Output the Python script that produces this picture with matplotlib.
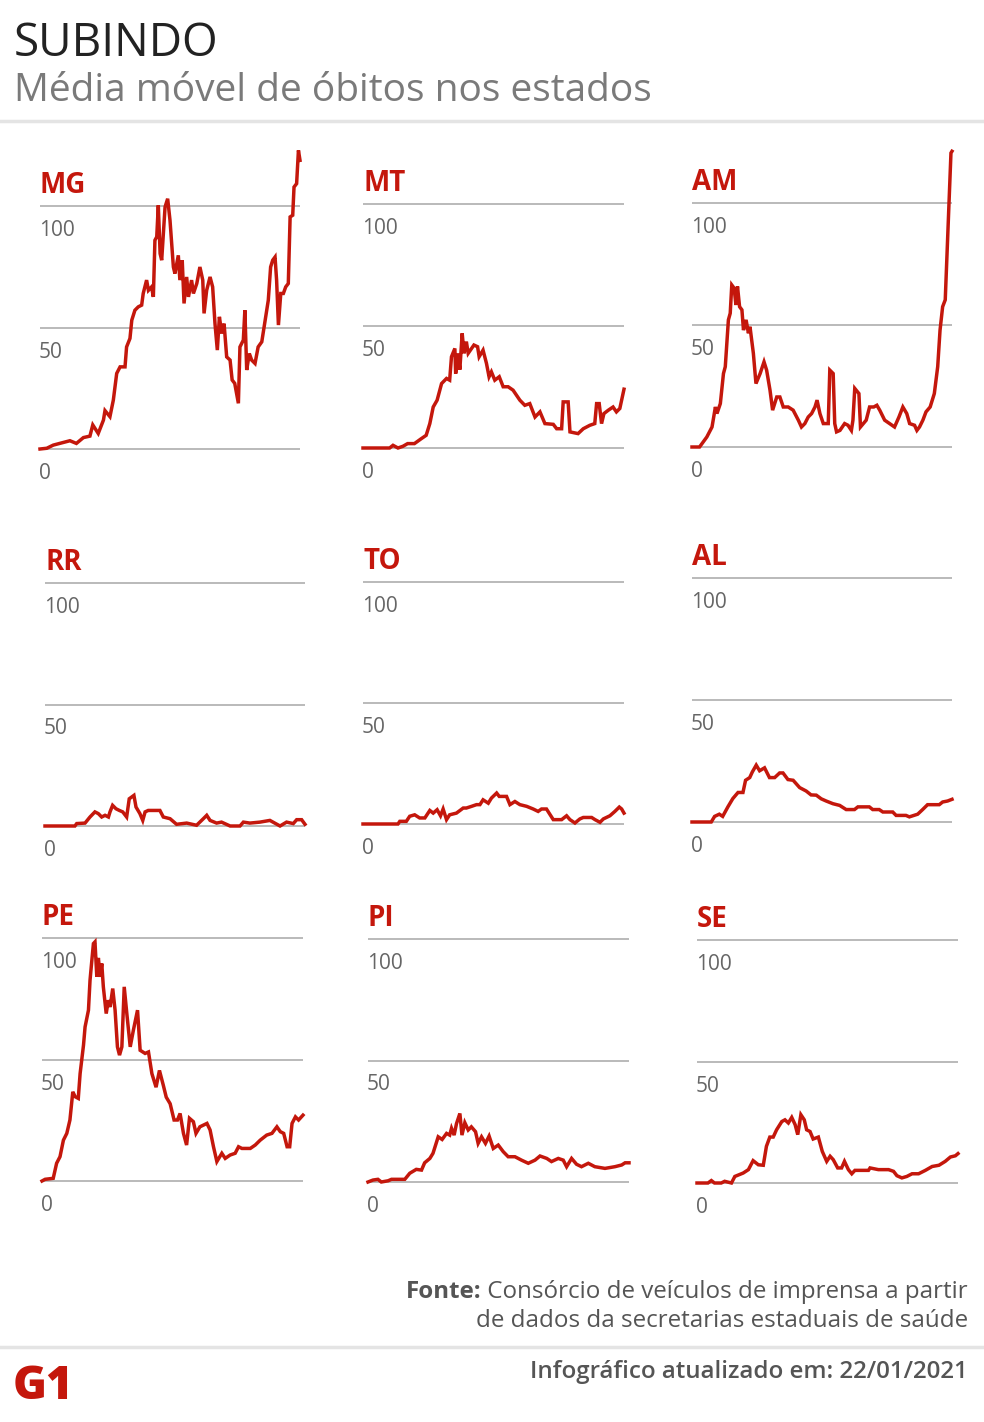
import matplotlib
matplotlib.use("Agg")
import matplotlib.pyplot as plt
from matplotlib.lines import Line2D

plt.rcParams["font.family"] = ["Open Sans", "DejaVu Sans"]

# time axis as % of the period (mar/2020 -> jan/2021), values = 7-day mean of deaths
MG_X = [0, 2.6, 5.1, 9, 11.5, 14, 16.7, 19.2, 20.3, 22.4, 24.4, 25, 26.9, 28.2, 29.5, 30.8, 32.7, 33.3,
        34.6, 35.3, 36.5, 37.8, 39.1, 39.7, 41, 41.7, 42.9, 43.6, 44.2, 44.9, 45.5, 46.2, 46.8, 48.1,
        49.1, 50, 51.3, 51.9, 53.2, 53.8, 54.7, 55.4, 56.4, 57.1, 58.3, 59, 60.3, 61.5, 62.6, 63.1,
        64.1, 65.4, 66.4, 67.3, 68.2, 69, 69.9, 70.8, 71.8, 73.1, 73.9, 74.9, 76.3, 76.9, 78.2, 78.8,
        79.5, 80.5, 81.4, 82.7, 83.9, 85.3, 86.5, 87.8, 88.7, 89.5, 90.4, 91, 91.7, 92.6, 93.6, 94.5,
        95.5, 96.2, 97.2, 97.7, 98.7, 99.4, 100]
MG_Y = [0, 0.3, 1.6, 2.7, 3.4, 2.3, 4.7, 5.3, 9.9, 6.4, 11.9, 15.8, 13.3, 20.1, 31.1, 33.8, 33.8, 42,
        45.5, 53, 57.1, 58.5, 59.2, 64, 69.5, 65.3, 66.7, 62.6, 85.9, 87.3, 100.3, 80.4, 77.7, 99.6,
        103, 94.1, 74.9, 72.2, 79.7, 69.5, 77.7, 59.9, 70.8, 62.6, 69.5, 64, 68.1, 74.9, 69.5, 55.8,
        65.3, 70.8, 66.7, 51.6, 40.7, 54.4, 47.5, 51.6, 37.9, 36.6, 28.4, 27, 18.8, 42, 44.8, 57.1,
        32.5, 39.3, 36.6, 35.2, 42, 44.1, 52.3, 61.2, 74.9, 77.7, 79, 69.5, 51, 64, 64, 66.7,
        68.1, 95.5, 96.2, 107.8, 109.2, 122.9, 118.8]

MT_X = [0, 10.2, 11.5, 13.4, 15.3, 17.1, 19.7, 22.3, 24.2, 25.6, 26.9, 28.4, 30.1, 32, 33.2, 33.9,
        35.2, 35.5, 36.4, 37.1, 38, 38.7, 39.6, 40.3, 41.6, 42.5, 43.9, 44.5, 46, 47.3, 48.3, 49.2,
        50.5, 52.2, 53.7, 55.6, 57.5, 60.1, 62, 63.9, 65.9, 67.8, 69.7, 72.9, 74.2, 76.1, 76.7, 78.6,
        79.3, 82.4, 84.4, 86.9, 88.8, 89.5, 90.5, 91.4, 92.3, 94, 95.8, 97.1, 98.4, 100]
MT_Y = [0, 0, 1.1, 0, 0.7, 1.8, 1.8, 3.8, 5.2, 10, 16.8, 19.6, 26.4, 28.5, 27.8, 37.4,
        40.8, 30.5, 38.8, 32.1, 47, 38.8, 43.6, 38.8, 40.8, 42.2, 41.5, 37.4, 40.1, 34.7, 29.2, 31.2,
        27.8, 29.2, 25.1, 25.1, 23.7, 19.6, 17.5, 18.2, 12.7, 14.8, 10, 9.7, 7.9, 7.9, 18.9, 18.9,
        6.6, 5.9, 7.9, 9.3, 10, 18.2, 18.2, 10, 14.1, 15.5, 16.8, 14.8, 16.2, 24.1]

AM_X = [0, 2.9, 5.7, 7.7, 9, 9.6, 10.9, 12.1, 12.8, 14, 14.7, 15.3, 16.2, 16.9, 17.5, 18.3, 19.2,
        19.8, 20.8, 21.7, 22.3, 23.6, 24.6, 26.2, 27.7, 28.7, 30, 31, 32.6, 33.8, 35.1, 37, 38.9,
        40.9, 42.1, 43.4, 44.7, 46, 47.3, 48.1, 49.2, 50.5, 52.4, 53, 54.3, 54.9, 55.6, 56.9, 58.7,
        60, 61.3, 61.9, 62.6, 64.2, 64.8, 67, 68.3, 69.9, 71.1, 72.2, 74.1, 76, 77.9, 79.6, 81.1,
        82.6, 83.7, 85.6, 86.5, 87.5, 88.8, 90, 91.6, 93.2, 94.5, 95.4, 96.4, 97.4, 98.3, 98.9,
        99.6, 100]
AM_Y = [0, 0, 4.1, 8.2, 16.4, 13.7, 17.8, 30.1, 32.9, 52.1, 54.8, 66.4, 65.1, 58.2, 65.8, 57.5, 56.2,
        47.9, 52.1, 46.6, 49.3, 38.4, 26, 30.1, 34.9, 31.5, 23.3, 15.1, 20.5, 20.5, 16.4, 16.4, 15.1,
        11, 8.2, 9.6, 12.3, 13.7, 16.4, 19.2, 13.7, 9.6, 9.6, 31.5, 30.1, 9.6, 6.2, 6.8, 9.6,
        8.9, 6.8, 11, 24, 21.9, 8.2, 11, 16.4, 16.4, 17.1, 15.1, 11, 9.6, 8.2, 12.3, 16.4,
        13.7, 9.6, 8.9, 6.8, 8.2, 11, 14.4, 16.4, 21.9, 32.9, 47.9, 57.5, 60.3, 84.9, 101.4,
        120.5, 121.2]

RR_X = [0, 11.5, 12.2, 15.4, 17.3, 19.2, 20.5, 21.8, 23.1, 24.4, 25, 26, 27.3, 28.6, 29.9, 31.4, 32.4,
        34.2, 35, 36.5, 37.6, 38.5, 39.7, 42.9, 44.2, 45.5, 48.1, 50.6, 54.5, 58.3, 60.9, 62.2, 63.5,
        66, 67.9, 71.2, 75, 76.3, 78.8, 82.7, 86.5, 90.4, 92.9, 95.5, 96.8, 98.7, 100]
RR_Y = [0, 0, 1, 1.2, 3.7, 5.8, 5.1, 3.7, 4.4, 3.7, 5.8, 8.5, 7.1, 6.4, 5.8, 3.7, 11.2,
        12.6, 7.8, 5.1, 2.3, 5.8, 6.4, 6.4, 6.4, 3.7, 3, 0.7, 1.2, 0.3, 3, 4.4, 2.3,
        1.2, 1.6, 0, 0, 1.6, 1.2, 1.6, 2.3, 0, 1.6, 1, 2.6, 2.6, 0.7]

TO_X = [0, 13.4, 14.1, 16.6, 17.9, 19.8, 21.7, 23.7, 25.6, 26.9, 28.4, 29.7, 30.7, 32, 33.2, 35.8,
        38.4, 39.6, 41.6, 43.5, 44.8, 46, 48, 49.2, 51.2, 52.2, 55, 56.3, 58.2, 60.1, 62.7, 65.2,
        67.1, 68.4, 70.3, 72.9, 76.1, 78, 79.3, 81.2, 83.1, 84.4, 87.6, 88.9, 90.8, 92.1, 94.6, 96.5,
        98.2, 99.1, 100]
TO_Y = [0, 0, 1.1, 1.1, 3.2, 3.8, 2.5, 2.5, 5.6, 4.5, 5.9, 3.4, 6.2, 1.8, 3.8, 4.5,
        6.6, 6.6, 7.3, 8, 8, 10, 8.6, 10.7, 12.8, 11.4, 11.4, 8, 9.3, 8, 7.3, 6.2,
        5.2, 6.2, 6.2, 1.8, 1.8, 3.4, 1.8, 0.4, 2.1, 2.7, 2.7, 1.8, 0.7, 2.1, 3.4, 5.2,
        7, 6.2, 4.5]

AL_X = [0, 7.4, 8.7, 10.5, 11.8, 13.8, 15.7, 17.7, 19.6, 20.6, 22.2, 23.2, 24.7, 26, 27.9, 29.8, 31.8,
        33.7, 35, 36.9, 38.9, 41.4, 43.9, 45.8, 47.8, 49.7, 51.6, 54.2, 56.8, 59.3, 62.5, 63.8, 68.2,
        69.5, 72, 73.4, 77.2, 78.5, 82.3, 83.6, 86.8, 88.7, 90.6, 95.1, 96.4, 98.3, 100]
AL_Y = [0, 0, 2.3, 3.2, 2.3, 6.2, 9.6, 12.1, 12.1, 17.1, 18.2, 20.5, 23.3, 21, 22.2, 18.2, 18.2,
        20.1, 20.1, 17.4, 17.1, 14.1, 12.7, 11.1, 11, 9.5, 8.6, 7.5, 6.8, 5.1, 5.1, 6.2, 6.2,
        5.1, 5.1, 4.1, 4.1, 2.7, 2.7, 2.1, 3.2, 5.1, 7.1, 7.1, 8.2, 8.6, 9.3]

PE_X = [0, 1.2, 4.3, 5.6, 6.9, 8.2, 9.5, 10.7, 11.8, 12.7, 13.9, 14.6, 15.9, 16.5, 17.8, 18.4, 19.1,
        19.7, 20.3, 21, 21.6, 22.3, 22.9, 23.5, 24.6, 25.4, 26.1, 27.1, 28, 28.9, 29.7, 30.6, 31.5,
        32.5, 33.8, 35, 36.6, 37.6, 39.5, 40.8, 42.1, 43.7, 45, 46.5, 47.6, 49.1, 50.6, 51.9, 52.9,
        54.2, 55.4, 56.5, 58, 59, 60.5, 63.2, 64.4, 65.7, 67, 68.9, 70.2, 72.1, 74, 75.3, 76.6,
        79.8, 81.7, 83.6, 86.1, 88.1, 90, 91.3, 92.6, 93.9, 94.9, 95.8, 97.1, 98.3, 100]
PE_Y = [0, 0.7, 1.1, 7.3, 10, 16.8, 19.6, 25.1, 36.7, 34.7, 34, 44.2, 55.9, 63.4, 70.3, 82.6, 90.8,
        97.7, 98.4, 84, 91.8, 84, 89.5, 79.9, 68.9, 74.4, 71.6, 79.2, 70.3, 55.2, 51.8, 55.2, 79.9,
        68.9, 55.2, 62, 70.3, 53.8, 52.5, 53.1, 44.2, 38.6, 45.5, 39.3, 34.5, 31.8, 25.1, 25.1, 27.8,
        19.6, 14.8, 25.8, 24.4, 19.6, 22.3, 23.7, 21, 14.1, 8, 11.4, 9.3, 10.7, 11.4, 14.1, 13.4,
        13.4, 14.8, 16.8, 18.9, 19.6, 22.3, 20.3, 19.6, 14.1, 14.1, 23.7, 26.4, 25.1, 27.1]

PI_X = [0, 1.9, 3.8, 5.1, 7.7, 9, 14.1, 16, 18.5, 20.5, 21.7, 23.7, 24.9, 26.9, 28.4, 30.1, 31.3, 32,
        33, 33.9, 35.2, 36, 37.1, 38.4, 39.6, 41.2, 42.2, 43.5, 45, 46.4, 48, 49.9, 51.8, 53.7, 56.3,
        58.8, 61.4, 64, 65.9, 68.5, 70.3, 72.9, 74.8, 76.1, 78, 79.9, 81.8, 84.4, 86.9, 90.8, 94.6,
        97.2, 98.5, 100]
PI_Y = [0, 0.8, 1.1, 0, 0.5, 1.1, 1.1, 3.6, 5.2, 4.9, 7.9, 9.7, 11.8, 18.6, 17.5, 20, 19.3, 22.1,
        19.3, 24, 28.2, 19.3, 24.4, 21.4, 22.7, 20.7, 15.9, 18.6, 15.9, 18.9, 13.8, 15.2, 12.5, 10.4, 10.4,
        9, 7.7, 9, 10.7, 9.7, 8.4, 9.7, 9, 6.3, 9.7, 7.3, 6.3, 7.7, 6.3, 5.6, 6.3,
        7, 7.9, 7.9]

SE_X = [0, 4.2, 5.5, 6.7, 9.3, 10.6, 13.2, 14.5, 17.7, 19.7, 21.5, 23.5, 25.4, 26.6, 27.9, 29.2, 30.5,
        32.5, 33.7, 35, 36.3, 37.6, 38.6, 39.8, 41.1, 42, 43.3, 44.5, 46.5, 48, 49.7, 51, 52.2, 53.9,
        55.4, 56.5, 58, 59.3, 60.5, 65.7, 66.3, 69.5, 73.4, 75.3, 76.6, 78.5, 80.4, 82.4, 84.9, 87.5,
        90.1, 92.7, 95.1, 97.1, 99, 100]
SE_Y = [0, 0, 1, 0, 0, 0.7, 0, 2.7, 4.1, 5.5, 9.2, 7.5, 7.3, 15.1, 18.9, 18.9, 21.9,
        25.3, 26, 24.7, 27, 24, 19.9, 28.1, 26, 21.9, 21.2, 18.1, 18.9, 13, 8.9, 11, 9.6, 6.2,
        6.2, 8.9, 5.5, 3.8, 5.2, 5.2, 6.2, 5.5, 5.5, 4.8, 3, 2.1, 2.7, 3.8, 3.8, 5.2,
        6.8, 7.3, 8.9, 10.7, 11.2, 12.1]

STATES = ["MG", "MT", "AM", "RR", "TO", "AL", "PE", "PI", "SE"]
SERIES = {
    "MG": (MG_X, MG_Y), "MT": (MT_X, MT_Y), "AM": (AM_X, AM_Y),
    "RR": (RR_X, RR_Y), "TO": (TO_X, TO_Y), "AL": (AL_X, AL_Y),
    "PE": (PE_X, PE_Y), "PI": (PI_X, PI_Y), "SE": (SE_X, SE_Y),
}
GRID_VALUES = [0, 50, 100]

# panel placement in pixels: left, right, y of the 0 line, y of the 100 line
PANELS = {
    "MG": (40, 300, 449, 206), "MT": (363, 624, 448, 204), "AM": (692, 952, 447, 203),
    "RR": (45, 305, 826, 583), "TO": (363, 624, 824, 582), "AL": (692, 952, 822, 578),
    "PE": (42, 303, 1181, 938), "PI": (368, 629, 1182, 939), "SE": (697, 958, 1183, 940),
}

W, H = 984, 1422
RED = "#c4170c"
GRID = "#b4b4b4"
TICK = "#666666"
YLO, YHI = -3, 128

fig = plt.figure(figsize=(W / 100, H / 100), dpi=100)
fig.patch.set_facecolor("white")

for st in STATES:
    x0, x1, y0, y100 = PANELS[st]
    unit = (y0 - y100) / 100
    bottom = y0 - YLO * unit
    top = y0 - YHI * unit
    ax = fig.add_axes([x0 / W, 1 - bottom / H, (x1 - x0) / W, (bottom - top) / H])
    ax.set_xlim(0, 100)
    ax.set_ylim(YLO, YHI)
    ax.axis("off")
    for g in GRID_VALUES:
        ax.axhline(g, color=GRID, lw=1.3, zorder=1)
        ax.annotate(str(g), xy=(0, g), xytext=(-1, -14), textcoords="offset pixels",
                    ha="left", va="top", fontsize=15, color=TICK)
    xs, ys = SERIES[st]
    ax.plot(xs, ys, color=RED, lw=2.5, zorder=3, clip_on=False, solid_joinstyle="miter")
    ax.annotate(st, xy=(0, 100), xytext=(0, 13), textcoords="offset pixels",
                ha="left", va="baseline", fontsize=20, fontweight="bold", color=RED)

# header
fig.text(14 / W, 1 - 56 / H, "SUBINDO", fontsize=33, color="#222222", ha="left", va="baseline")
fig.text(14 / W, 1 - 101 / H, "Média móvel de óbitos nos estados", fontsize=28,
         color="#7a7a7a", ha="left", va="baseline")
fig.add_artist(Line2D([0, 1], [1 - 121 / H] * 2, color="#e4e4e4", lw=2.5))

# footer
FS = 17.4
fig.text(968 / W, 1 - 1327 / H, "de dados da secretarias estaduais de saúde", fontsize=FS,
         color="#555555", ha="right", va="baseline")
src = fig.text(968 / W, 1 - 1298 / H, " Consórcio de veículos de imprensa a partir",
               fontsize=FS, color="#555555", ha="right", va="baseline")
fig.canvas.draw()
bb = src.get_window_extent()
fig.text(bb.x0 / W, 1 - 1298 / H, "Fonte:", fontsize=FS, fontweight="bold",
         color="#555555", ha="right", va="baseline")
fig.add_artist(Line2D([0, 1], [1 - 1347 / H] * 2, color="#e4e4e4", lw=2.5))
fig.text(968 / W, 1 - 1378 / H, "Infográfico atualizado em: 22/01/2021", fontsize=FS,
         fontweight="semibold", color="#555555", ha="right", va="baseline")
fig.text(13 / W, 1 - 1399 / H, "G1", fontsize=33, fontweight="heavy",
         color=RED, ha="left", va="baseline")

fig.savefig("out.png", dpi=100)
plt.close(fig)
